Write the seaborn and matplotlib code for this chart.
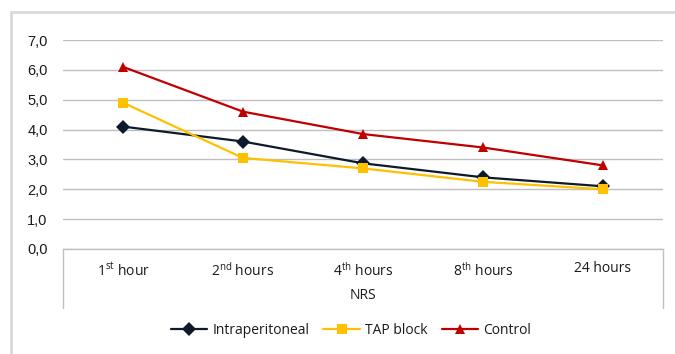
import matplotlib
matplotlib.use("Agg")
import matplotlib.pyplot as plt
import numpy as np
import pandas as pd
import seaborn as sns
from matplotlib.patches import Rectangle
from matplotlib.ticker import FuncFormatter

# %% data
time_points = ["1st hour", "2nd hours", "4th hours", "8th hours", "24 hours"]
tick_labels = [
    r"1$^{\mathrm{st}}$ hour",
    r"2$^{\mathrm{nd}}$ hours",
    r"4$^{\mathrm{th}}$ hours",
    r"8$^{\mathrm{th}}$ hours",
    "24 hours",
]
intraperitoneal = [4.1, 3.6, 2.87, 2.4, 2.1]
tap_block = [4.9, 3.05, 2.7, 2.25, 2.0]
control = [6.1, 4.6, 3.85, 3.4, 2.8]
groups = ["Intraperitoneal", "TAP block", "Control"]

df = pd.DataFrame(
    {
        "pos": list(range(len(time_points))) * 3,
        "NRS score": intraperitoneal + tap_block + control,
        "Group": np.repeat(groups, len(time_points)),
    }
)

# %% style
sns.set_theme(style="white")
plt.rcParams["font.family"] = ["Open Sans", "DejaVu Sans"]
plt.rcParams["mathtext.fontset"] = "custom"
plt.rcParams["mathtext.rm"] = "Open Sans"
plt.rcParams["mathtext.it"] = "Open Sans"

palette = {"Intraperitoneal": "#0e1a2b", "TAP block": "#ffc000", "Control": "#c00000"}
markers = {"Intraperitoneal": "D", "TAP block": "s", "Control": "^"}

fig = plt.figure(figsize=(6.75, 3.54), dpi=100)
ax = fig.add_axes([63 / 675, 1 - 249 / 354, 600 / 675, 209 / 354])

# outer light gray frame
fig.patches.append(
    Rectangle((11 / 675, -0.2), 1.1, 1 - 12 / 354 + 0.2, transform=fig.transFigure,
              fill=False, edgecolor="#d9d9d9", linewidth=2)
)

sns.lineplot(
    data=df, x="pos", y="NRS score", hue="Group", style="Group",
    palette=palette, markers=markers, dashes=False, linewidth=1.6,
    markersize=7, markeredgewidth=0, ax=ax,
)

ax.set_xlim(-0.5, 4.5)
ax.set_ylim(0, 7)
ax.set_yticks(np.arange(0, 8, 1))
ax.yaxis.set_major_formatter(FuncFormatter(lambda v, p: f"{v:.1f}".replace(".", ",")))
ax.set_xticks(range(len(time_points)))
ax.set_xticklabels(tick_labels)
ax.grid(axis="y", color="#bfbfbf", linewidth=1)
ax.set_axisbelow(True)
ax.tick_params(axis="y", length=0, pad=11, labelsize=10.5, labelcolor="#1a1a1a")
ax.tick_params(axis="x", length=0, pad=9, labelsize=10, labelcolor="#1a1a1a")
for lab in ax.get_yticklabels():
    lab.set_fontfamily(["Liberation Sans", "DejaVu Sans"])

for s in ["top", "right", "left"]:
    ax.spines[s].set_visible(False)
ax.spines["bottom"].set_color("#bfbfbf")
ax.spines["bottom"].set_linewidth(1)

# category box below the axis
for xa in [0, 1]:
    ax.plot([xa, xa], [0, -59 / 209], transform=ax.transAxes, color="#bfbfbf",
            linewidth=1, clip_on=False)

ax.set_xlabel("NRS", fontsize=10, labelpad=6, color="#1a1a1a")
ax.set_ylabel("")

handles, labels = ax.get_legend_handles_labels()
ax.legend_.remove()
fig.legend(handles, labels, loc="center", bbox_to_anchor=(0.52, 1 - 330 / 354),
           ncol=3, frameon=False, fontsize=10, handlelength=2.6,
           handletextpad=0.4, columnspacing=1.0, labelcolor="#1a1a1a")

fig.savefig("out.png", dpi=100)
